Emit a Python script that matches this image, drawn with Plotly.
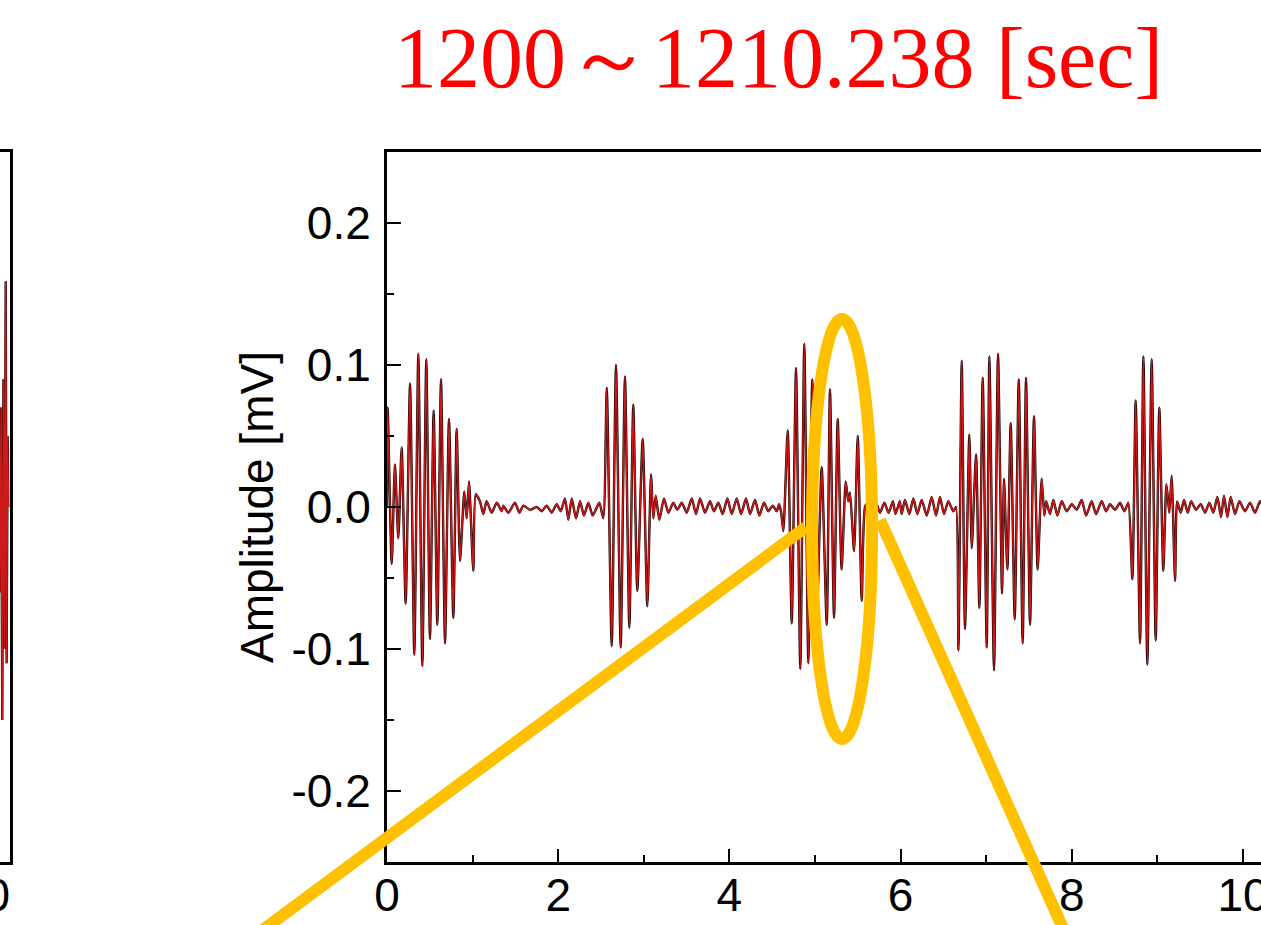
import plotly.graph_objects as go

# Waveform extrema, 1200-1210.238 s window (time in s, amplitude in mV)
t_sec = [
    0.000, 0.008, 0.055, 0.093, 0.132, 0.171, 0.218, 0.269, 0.319, 0.366,
    0.413, 0.459, 0.502, 0.545, 0.588, 0.631, 0.678, 0.724, 0.775, 0.814,
    0.853, 0.903, 0.931, 0.958, 1.008, 1.036,
    1.086, 1.125, 1.164, 1.223, 1.282, 1.340, 1.359, 1.417, 1.495, 1.546,
    1.593, 1.671, 1.749, 1.807, 1.866, 1.924, 1.982, 2.029, 2.079, 2.118,
    2.158, 2.208, 2.255, 2.301, 2.352, 2.403, 2.480, 2.527,
    2.567, 2.625, 2.675, 2.730, 2.780, 2.831, 2.877, 2.924, 2.987, 3.041,
    3.084, 3.111, 3.139, 3.181,
    3.236, 3.287, 3.345, 3.391, 3.443, 3.501, 3.560, 3.610, 3.657, 3.715,
    3.773, 3.820, 3.871, 3.921, 3.976, 4.027, 4.085, 4.136, 4.194, 4.241,
    4.299, 4.350, 4.404, 4.455, 4.506, 4.553, 4.580, 4.605,
    4.630, 4.681, 4.728, 4.778, 4.828, 4.875, 4.922, 4.968, 5.020, 5.078,
    5.137, 5.175, 5.222, 5.265, 5.311, 5.359, 5.389, 5.409, 5.456, 5.499,
    5.546, 5.584,
    5.620, 5.660, 5.710, 5.760, 5.810, 5.860, 5.910, 5.940, 5.990, 6.012,
    6.051, 6.102, 6.149, 6.195, 6.246, 6.305, 6.363, 6.414, 6.460, 6.507,
    6.557, 6.616, 6.647,
    6.675, 6.714, 6.752, 6.803, 6.831, 6.881, 6.920, 6.959, 7.006, 7.037,
    7.091, 7.138, 7.185, 7.208, 7.247, 7.286, 7.333, 7.380, 7.426, 7.465,
    7.512, 7.558, 7.601, 7.648, 7.679, 7.700,
    7.745, 7.784, 7.831, 7.882, 7.940, 7.999, 8.057, 8.115, 8.166, 8.232,
    8.283, 8.349, 8.400, 8.446, 8.505, 8.563, 8.614, 8.660,
    8.707, 8.746, 8.797, 8.836, 8.882, 8.933, 8.980, 9.022, 9.069, 9.105,
    9.139, 9.166, 9.206, 9.230,
    9.272, 9.311, 9.354, 9.393, 9.451, 9.506, 9.556, 9.606, 9.653, 9.700,
    9.743, 9.778, 9.817, 9.856, 9.907, 9.957, 10.023, 10.082, 10.140, 10.199,
    10.238,
]
amp_mv = [
    0.000, 0.070, -0.040, 0.030, -0.022, 0.042, -0.068, 0.087, -0.104, 0.108,
    -0.112, 0.104, -0.093, 0.068, -0.083, 0.090, -0.096, 0.062, -0.078, 0.055,
    -0.038, 0.011, -0.008, 0.018, -0.045, 0.009,
    0.004, -0.005, 0.004, -0.004, 0.003, -0.003, 0.001, -0.004, 0.003, -0.004,
    0.001, -0.002, 0.000, -0.003, 0.001, -0.004, 0.002, -0.003, 0.006, -0.009,
    0.006, -0.008, 0.004, -0.006, 0.003, -0.006, 0.003, -0.008,
    0.084, -0.098, 0.100, -0.099, 0.092, -0.085, 0.072, -0.059, 0.048, -0.070,
    0.023, -0.008, 0.008, -0.009,
    0.006, -0.004, 0.003, -0.002, 0.003, -0.004, 0.006, -0.005, 0.006, -0.004,
    0.004, -0.003, 0.003, -0.005, 0.006, -0.005, 0.006, -0.005, 0.006, -0.005,
    0.005, -0.006, 0.003, -0.003, 0.001, -0.003, 0.002, -0.004,
    -0.017, 0.054, -0.082, 0.098, -0.114, 0.115, -0.110, 0.090, -0.080, 0.028,
    -0.083, 0.083, -0.078, 0.062, -0.044, 0.018, 0.004, 0.010, -0.031, 0.050,
    -0.066, 0.000,
    0.003, -0.003, 0.003, -0.004, 0.003, -0.004, 0.004, -0.005, 0.004, -0.005,
    0.005, -0.005, 0.006, -0.005, 0.005, -0.006, 0.007, -0.006, 0.007, -0.005,
    0.004, -0.003, 0.000,
    -0.101, 0.103, -0.086, 0.051, -0.029, 0.037, -0.071, 0.091, -0.099, 0.106,
    -0.115, 0.108, -0.061, 0.020, -0.044, 0.059, -0.079, 0.090, -0.096, 0.091,
    -0.083, 0.064, -0.044, 0.020, -0.006, 0.004,
    -0.005, 0.005, -0.006, 0.004, -0.003, 0.002, -0.002, 0.005, -0.006, 0.004,
    -0.005, 0.004, -0.003, 0.002, -0.002, 0.003, -0.003, 0.003,
    -0.051, 0.075, -0.096, 0.106, -0.111, 0.104, -0.094, 0.070, -0.045, 0.016,
    -0.004, 0.022, -0.052, 0.004,
    -0.004, 0.005, -0.004, 0.004, -0.002, 0.002, -0.004, 0.003, -0.004, 0.007,
    -0.007, 0.008, -0.007, 0.007, -0.005, 0.004, -0.003, 0.003, -0.004, 0.004,
    0.000,
]

# Tail end of the preceding window (only its last few samples are in view)
prev_t = [0.00, 0.12, 0.24, 0.36, 0.48, 0.60, 0.70, 0.80, 0.90]
prev_amp = [-0.060, 0.070, -0.150, 0.090, -0.100, 0.159, -0.110, 0.050, 0.000]

x_tick_vals = [0, 2, 4, 6, 8, 10]
x_tick_text = ["0", "2", "4", "6", "8", "10"]
y_tick_vals = [-0.2, -0.1, 0.0, 0.1, 0.2]
y_tick_text = ["-0.2", "-0.1", "0.0", "0.1", "0.2"]

W, H = 1261, 925
PLOT_L, PLOT_T, PLOT_B = 387, 152, 862


def px(x):
    return x / W


def py(y):
    return (PLOT_B - y) / (PLOT_B - PLOT_T)


fig = go.Figure()

for color, width in (("#1a0000", 2.4), ("#cc1a1a", 1.5)):
    fig.add_trace(go.Scatter(x=t_sec, y=amp_mv, mode="lines",
                             line=dict(color=color, width=width, shape="spline",
                                       smoothing=0.6),
                             xaxis="x", yaxis="y", showlegend=False,
                             hoverinfo="skip"))
    fig.add_trace(go.Scatter(x=prev_t, y=prev_amp, mode="lines",
                             line=dict(color=color, width=width),
                             xaxis="x2", yaxis="y2", showlegend=False,
                             hoverinfo="skip"))

tick_font = dict(family="Liberation Sans, Arial, sans-serif", size=46, color="#000000")

fig.update_layout(
    width=W, height=H,
    margin=dict(l=0, r=0, t=PLOT_T, b=H - PLOT_B, pad=0, autoexpand=False),
    paper_bgcolor="white", plot_bgcolor="white",
    showlegend=False,
    xaxis=dict(
        domain=[px(PLOT_L), 1.0], range=[0, 10.21], anchor="y",
        showgrid=False, zeroline=False,
        showline=True, linecolor="black", linewidth=3, mirror=True,
        tickmode="array", tickvals=x_tick_vals, ticktext=x_tick_text,
        ticks="inside", ticklen=13, tickwidth=2, tickcolor="black",
        minor=dict(dtick=1, tick0=0, ticks="inside", ticklen=7, tickwidth=2,
                   tickcolor="black", showgrid=False),
        tickfont=tick_font, ticklabelstandoff=-9, ticklabeloverflow="allow",
    ),
    yaxis=dict(
        domain=[0, 1], range=[-0.25, 0.25], anchor="x",
        showgrid=False, zeroline=False,
        showline=True, linecolor="black", linewidth=3, mirror=False,
        tickmode="array", tickvals=y_tick_vals, ticktext=y_tick_text,
        ticks="inside", ticklen=14, tickwidth=2, tickcolor="black",
        minor=dict(dtick=0.05, tick0=0, ticks="inside", ticklen=7, tickwidth=2,
                   tickcolor="black", showgrid=False),
        tickfont=tick_font, ticklabelstandoff=4,
        title=dict(text="Amplitude [mV]", standoff=4,
                   font=dict(family="Liberation Sans, Arial, sans-serif",
                             size=46, color="#000000")),
    ),
    xaxis2=dict(
        domain=[0, px(9.5)], range=[0, 1], anchor="y2",
        showgrid=False, zeroline=False,
        showline=True, linecolor="black", linewidth=3, mirror=True,
        showticklabels=False, ticks="",
    ),
    yaxis2=dict(
        domain=[0, 1], range=[-0.25, 0.25], anchor="x2", side="right",
        showgrid=False, zeroline=False,
        showline=True, linecolor="black", linewidth=3, mirror=False,
        showticklabels=False, ticks="",
    ),
)

# Window title
fig.add_annotation(
    text="1200～1210.238 [sec]", xref="paper", yref="paper",
    x=px(778), y=py(58), xanchor="center", yanchor="middle",
    showarrow=False,
    font=dict(family="Liberation Serif, Times New Roman, serif", size=86, color="#ff0000"),
)

# Last tick label of the preceding window, cut by the page edge
fig.add_annotation(
    text="10", xref="paper", yref="paper",
    x=px(12), y=py(895), xanchor="right", yanchor="middle",
    showarrow=False, font=tick_font,
)

# Highlight of the zoomed section
gold = "#ffc000"
fig.add_shape(type="circle", xref="paper", yref="paper",
              x0=px(812), x1=px(872), y0=py(739), y1=py(319),
              line=dict(color=gold, width=12), layer="above")
fig.add_shape(type="line", xref="paper", yref="paper",
              x0=px(806), y0=py(527), x1=px(256), y1=py(935),
              line=dict(color=gold, width=12), layer="above")
fig.add_shape(type="line", xref="paper", yref="paper",
              x0=px(880), y0=py(520), x1=px(1066), y1=py(935),
              line=dict(color=gold, width=12), layer="above")

fig.write_html("out.html")
